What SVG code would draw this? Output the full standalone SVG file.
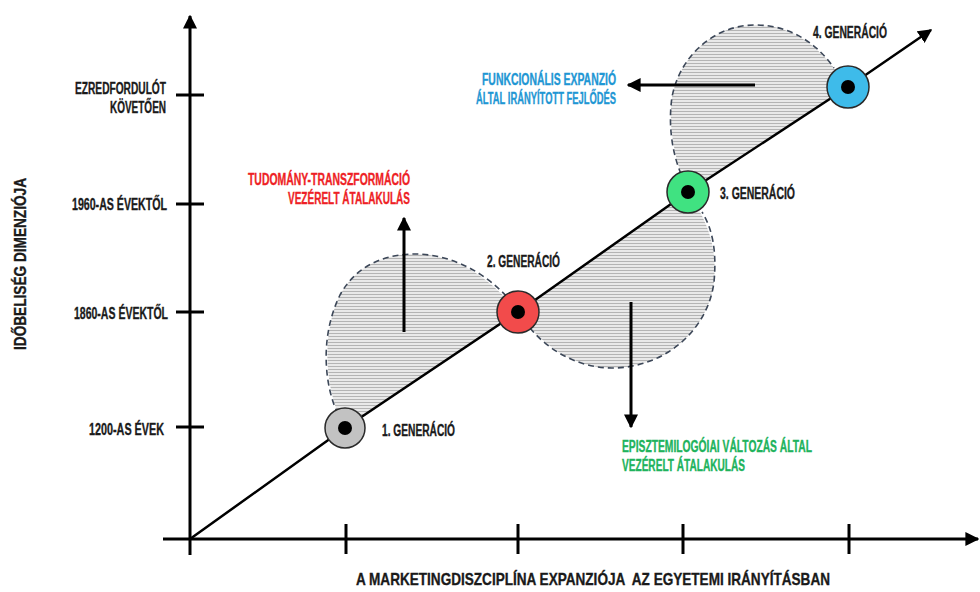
<svg xmlns="http://www.w3.org/2000/svg" width="980" height="592" viewBox="0 0 980 592">
  <style>
    text { font-family: "Liberation Sans Narrow", "Liberation Sans", Arial, sans-serif; font-weight: bold; font-size: 16px; stroke-width: 0.35px; }
    .dark { fill: #1a1a1a; stroke: #1a1a1a; }
    .red { fill: #ee1f26; stroke: #ee1f26; }
    .blue { fill: #1f97d4; stroke: #1f97d4; }
    .green { fill: #20b35c; stroke: #20b35c; }
    .axis { stroke: #000; stroke-width: 3; fill: none; }
    .thin { stroke: #000; stroke-width: 2.5; fill: none; }
    .area { fill: url(#hatch); stroke: none; }
    .rim { fill: none; stroke: #3c4758; stroke-width: 1.6; stroke-dasharray: 6 4; }
    .ring { stroke: #2a2a2a; stroke-width: 1.5; }
  </style>
  <defs>
    <pattern id="hatch" width="6" height="3" patternUnits="userSpaceOnUse">
      <rect width="6" height="3" fill="#e9e9e9"/>
      <line x1="0" y1="0.5" x2="6" y2="0.5" stroke="#b4b4b4" stroke-width="1"/>
    </pattern>
    <marker id="head" viewBox="0 0 10 10" refX="9" refY="5" markerWidth="14" markerHeight="14" markerUnits="userSpaceOnUse" orient="auto">
      <path d="M0,0 L10,5 L0,10 Z" fill="#000"/>
    </marker>
  </defs>

  <!-- shaded transition areas -->
  <g id="areas">
    <path class="area" d="M345,428 C328,400 318,340 340,295 C358,262 390,254 415,254 C450,254 485,272 518,312 Z"/>
    <path class="rim" d="M338,414 C326,390 318,340 340,295 C358,262 390,254 415,254 C450,254 485,272 508,298"/>
    <path class="area" d="M518,312 C540,345 575,368 612,368 C665,368 708,330 714,282 C717,250 710,225 688,192 Z"/>
    <path class="rim" d="M530,328 C548,350 578,368 612,368 C665,368 708,330 714,282 C717,250 712,228 702,212"/>
    <path class="area" d="M688,192 C674,160 668,125 672,97 C680,55 715,25 755,25 C792,25 820,45 848,87 Z"/>
    <path class="rim" d="M681,174 C672,152 668,125 672,97 C680,55 715,25 755,25 C792,25 818,45 834,68"/>
  </g>

  <!-- axes, timeline and direction arrows -->
  <g id="connectors">
    <line class="axis" x1="190" y1="555" x2="190" y2="16" marker-end="url(#head)"/>
    <line class="axis" x1="163" y1="539" x2="978" y2="539" marker-end="url(#head)"/>
    <line class="axis" x1="176" y1="95" x2="204" y2="95"/>
    <line class="axis" x1="176" y1="204" x2="204" y2="204"/>
    <line class="axis" x1="176" y1="312" x2="204" y2="312"/>
    <line class="axis" x1="176" y1="427" x2="204" y2="427"/>
    <line class="axis" x1="346" y1="524" x2="346" y2="554"/>
    <line class="axis" x1="518" y1="524" x2="518" y2="554"/>
    <line class="axis" x1="683" y1="524" x2="683" y2="554"/>
    <line class="axis" x1="849" y1="524" x2="849" y2="554"/>
    <polyline class="thin" points="190,539 345,428 518,312 688,192 848,87 931,30" marker-end="url(#head)"/>
    <line class="axis" x1="404" y1="332" x2="404" y2="218" marker-end="url(#head)"/>
    <line class="axis" x1="631" y1="302" x2="631" y2="427" marker-end="url(#head)"/>
    <line class="axis" x1="755" y1="85" x2="628" y2="85" marker-end="url(#head)"/>
  </g>

  <!-- generations -->
  <g id="gen1">
    <circle class="ring" cx="345" cy="428" r="20" fill="#c2c2c2"/>
    <circle cx="345" cy="428" r="7" fill="#000"/>
    <text class="dark" x="382" y="436" textLength="73" lengthAdjust="spacingAndGlyphs">1. GENERÁCIÓ</text>
  </g>
  <g id="gen2">
    <circle class="ring" cx="518" cy="312" r="21" fill="#f24b4b"/>
    <circle cx="518" cy="312" r="7" fill="#000"/>
    <text class="dark" x="487" y="267" textLength="73" lengthAdjust="spacingAndGlyphs">2. GENERÁCIÓ</text>
  </g>
  <g id="gen3">
    <circle class="ring" cx="688" cy="192" r="21" fill="#40e281"/>
    <circle cx="688" cy="192" r="7" fill="#000"/>
    <text class="dark" x="720" y="199" textLength="75" lengthAdjust="spacingAndGlyphs">3. GENERÁCIÓ</text>
  </g>
  <g id="gen4">
    <circle class="ring" cx="848" cy="87" r="21" fill="#3ebbea"/>
    <circle cx="848" cy="87" r="7" fill="#000"/>
    <text class="dark" x="813" y="38" textLength="74" lengthAdjust="spacingAndGlyphs">4. GENERÁCIÓ</text>
  </g>

  <!-- transformation labels -->
  <g id="science-label">
    <text class="red" x="410" y="185" text-anchor="end" textLength="162" lengthAdjust="spacingAndGlyphs">TUDOMÁNY-TRANSZFORMÁCIÓ</text>
    <text class="red" x="410" y="204" text-anchor="end" textLength="122" lengthAdjust="spacingAndGlyphs">VEZÉRELT ÁTALAKULÁS</text>
  </g>
  <g id="epistemic-label">
    <text class="green" x="622" y="452" textLength="190" lengthAdjust="spacingAndGlyphs">EPISZTEMILOGÓIAI VÁLTOZÁS ÁLTAL</text>
    <text class="green" x="622" y="471" textLength="123" lengthAdjust="spacingAndGlyphs">VEZÉRELT ÁTALAKULÁS</text>
  </g>
  <g id="functional-label">
    <text class="blue" x="616" y="85" text-anchor="end" textLength="134" lengthAdjust="spacingAndGlyphs">FUNKCIONÁLIS EXPANZIÓ</text>
    <text class="blue" x="616" y="104" text-anchor="end" textLength="140" lengthAdjust="spacingAndGlyphs">ÁLTAL IRÁNYÍTOTT FEJLŐDÉS</text>
  </g>

  <!-- axis labels -->
  <g id="time-ticks">
    <text class="dark" x="166" y="94" text-anchor="end" textLength="91" lengthAdjust="spacingAndGlyphs">EZREDFORDULÓT</text>
    <text class="dark" x="166" y="113" text-anchor="end" textLength="56" lengthAdjust="spacingAndGlyphs">KÖVETŐEN</text>
    <text class="dark" x="167" y="210" text-anchor="end" textLength="95" lengthAdjust="spacingAndGlyphs">1960-AS ÉVEKTŐL</text>
    <text class="dark" x="168" y="319" text-anchor="end" textLength="94" lengthAdjust="spacingAndGlyphs">1860-AS ÉVEKTŐL</text>
    <text class="dark" x="164" y="435" text-anchor="end" textLength="75" lengthAdjust="spacingAndGlyphs">1200-AS ÉVEK</text>
  </g>
  <g id="y-title">
    <text class="dark" transform="translate(26,264) rotate(-90)" text-anchor="middle" textLength="172" lengthAdjust="spacingAndGlyphs">IDŐBELISÉG DIMENZIÓJA</text>
  </g>
  <g id="x-title">
    <text class="dark" x="356" y="585" style="font-size:17px; white-space:pre" textLength="474" lengthAdjust="spacingAndGlyphs">A MARKETINGDISZCIPLÍNA EXPANZIÓJA  AZ EGYETEMI IRÁNYÍTÁSBAN</text>
  </g>
</svg>
